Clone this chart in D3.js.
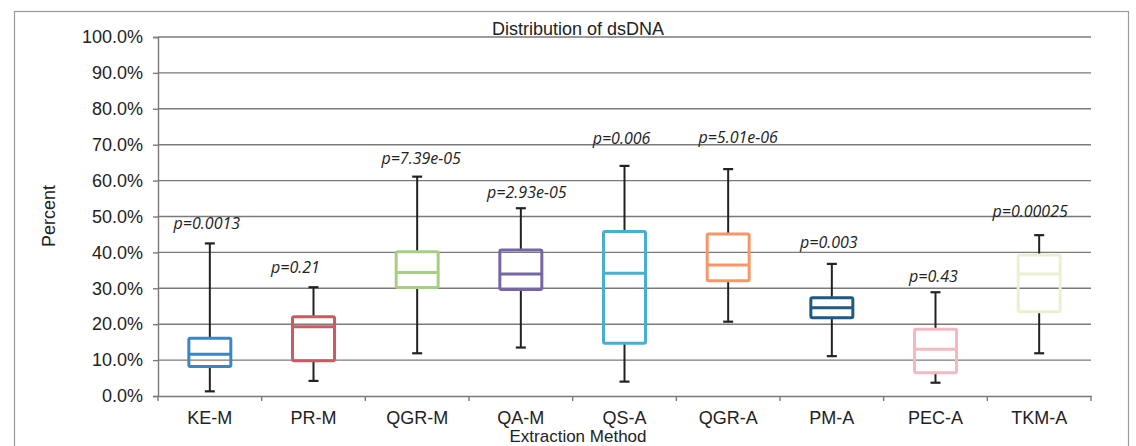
<!DOCTYPE html>
<html lang="en">
<head>
    <meta charset="UTF-8">
    <title>Distribution of dsDNA</title>
    <script src="https://d3js.org/d3.v7.min.js"></script>
    <style>
        body { margin: 0; background: #fff; }
        svg { display: block; }
    </style>
</head>
<body>
    <svg id="chart"></svg>
    <script>
        // values (percent)
        const categories = ["KE-M", "PR-M", "QGR-M", "QA-M", "QS-A", "QGR-A", "PM-A", "PEC-A", "TKM-A"];
        const whiskerLow  = [1.3, 4.2, 11.9, 13.5, 4.0, 20.7, 11.1, 3.7, 11.9];
        const q1          = [8.2, 9.8, 30.2, 29.7, 14.7, 32.1, 21.8, 6.5, 23.5];
        const median      = [11.6, 19.3, 34.4, 34.0, 34.2, 36.5, 24.6, 13.0, 34.0];
        const q3          = [16.1, 22.1, 40.2, 40.7, 45.8, 45.1, 27.4, 18.6, 39.3];
        const whiskerHigh = [42.5, 30.3, 61.1, 52.3, 64.1, 63.2, 36.8, 28.9, 44.8];
        const pLabels = ["p=0.0013", "p=0.21", "p=7.39e-05", "p=2.93e-05", "p=0.006",
                         "p=5.01e-06", "p=0.003", "p=0.43", "p=0.00025"];
        const pLabelAt = [48.2, 35.9, 66.3, 56.8, 71.9, 72.1, 42.9, 33.4, 51.5];
        const yTicks = [0, 10, 20, 30, 40, 50, 60, 70, 80, 90, 100];

        const colors = ["#3b87c5", "#cd5a63", "#a6ce85", "#7766a6", "#4aaed4",
                        "#f4986a", "#1f5a83", "#f3b9c0", "#eaf1d2"];
        const labelShift = [-3, -18, 4, 6, -3, 10, -3, -2, -9];

        const width = 1136, height = 446;
        const font = "Liberation Sans, Arial, sans-serif";
        const svg = d3.select("#chart").attr("width", width).attr("height", height);

        const x = d3.scaleBand().domain(categories).range([158, 1091]);
        const y = d3.scaleLinear().domain([0, 100]).range([396, 37]);

        // outer frame
        svg.append("rect").attr("x", 14.5).attr("y", 11.5)
            .attr("width", 1114).attr("height", 460)
            .attr("fill", "none").attr("stroke", "#9a9a9a").attr("stroke-width", 1.2);

        // gridlines
        svg.append("g").selectAll("line")
            .data(yTicks.filter(d => d > 0))
            .join("line")
            .attr("x1", 158).attr("x2", 1091)
            .attr("y1", d => y(d)).attr("y2", d => y(d))
            .attr("stroke", "#7a7a7a").attr("stroke-width", 1.4);

        // y axis
        const yAxis = svg.append("g").attr("transform", "translate(158,0)")
            .call(d3.axisLeft(y).tickValues(yTicks).tickFormat(d => d.toFixed(1) + "%")
                .tickSize(5).tickPadding(10));
        yAxis.select(".domain").attr("stroke", "#7a7a7a").attr("stroke-width", 1.4);
        yAxis.selectAll(".tick line").attr("stroke", "#7a7a7a").attr("stroke-width", 1.4);
        yAxis.selectAll("text").attr("font-family", font)
            .attr("font-size", 18).attr("fill", "#222");

        // x axis
        const xAxis = svg.append("g").attr("transform", "translate(0,396)")
            .call(d3.axisBottom(x).tickSize(0).tickPadding(15));
        xAxis.select(".domain").attr("stroke", "#7a7a7a").attr("stroke-width", 1.4);
        xAxis.selectAll("text").attr("font-family", font)
            .attr("font-size", 18).attr("fill", "#222");
        xAxis.selectAll("line.bound")
            .data(categories.map(c => x(c)).concat([x.range()[1]]))
            .join("line").attr("class", "bound")
            .attr("x1", d => d).attr("x2", d => d).attr("y1", 0).attr("y2", 5)
            .attr("stroke", "#7a7a7a").attr("stroke-width", 1.4);

        // boxes
        const boxW = x.bandwidth() * 0.405;
        const capW = 10;
        const g = svg.append("g");
        categories.forEach((c, i) => {
            const cx = x(c) + x.bandwidth() / 2;
            const b = g.append("g");
            b.append("line").attr("x1", cx).attr("x2", cx)
                .attr("y1", y(whiskerHigh[i])).attr("y2", y(q3[i]))
                .attr("stroke", "#222").attr("stroke-width", 2);
            b.append("line").attr("x1", cx).attr("x2", cx)
                .attr("y1", y(q1[i])).attr("y2", y(whiskerLow[i]))
                .attr("stroke", "#222").attr("stroke-width", 2);
            [whiskerHigh[i], whiskerLow[i]].forEach(v => {
                b.append("line").attr("x1", cx - capW / 2).attr("x2", cx + capW / 2)
                    .attr("y1", y(v)).attr("y2", y(v))
                    .attr("stroke", "#222").attr("stroke-width", 2.2);
            });
            b.append("rect").attr("x", cx - boxW / 2).attr("y", y(q3[i]))
                .attr("width", boxW).attr("height", y(q1[i]) - y(q3[i]))
                .attr("rx", 1.5)
                .attr("fill", "none").attr("stroke", colors[i]).attr("stroke-width", 3);
            b.append("line").attr("x1", cx - boxW / 2).attr("x2", cx + boxW / 2)
                .attr("y1", y(median[i])).attr("y2", y(median[i]))
                .attr("stroke", colors[i]).attr("stroke-width", 3);
            b.append("text").attr("x", cx + labelShift[i]).attr("y", y(pLabelAt[i]) + 6)
                .attr("text-anchor", "middle")
                .attr("font-family", "Open Sans, sans-serif").attr("font-style", "italic")
                .attr("font-size", 16).attr("fill", "#222")
                .text(pLabels[i]);
        });

        // titles
        svg.append("text").attr("x", 578).attr("y", 35).attr("text-anchor", "middle")
            .attr("font-family", font).attr("font-size", 18)
            .attr("fill", "#222").text("Distribution of dsDNA");
        svg.append("text").attr("x", 578).attr("y", 442).attr("text-anchor", "middle")
            .attr("font-family", font).attr("font-size", 17)
            .attr("fill", "#222").text("Extraction Method");
        svg.append("text").attr("transform", "translate(55,216) rotate(-90)")
            .attr("text-anchor", "middle")
            .attr("font-family", font).attr("font-size", 18)
            .attr("fill", "#222").text("Percent");
    </script>
</body>
</html>
